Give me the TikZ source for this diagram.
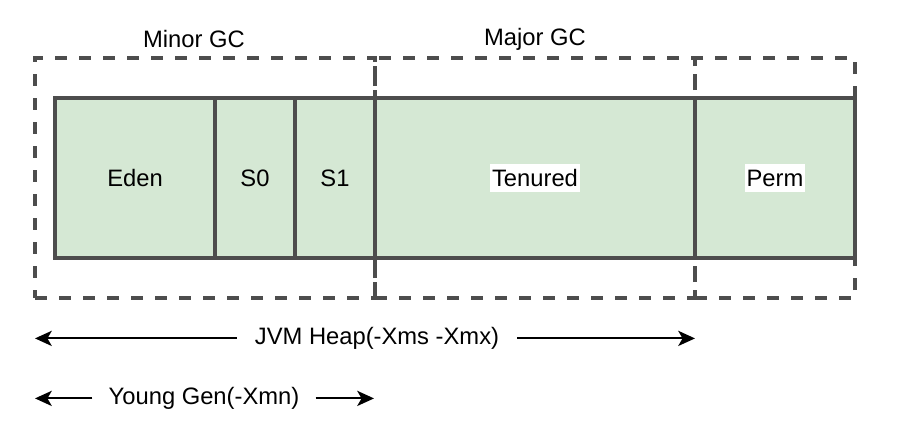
\documentclass[tikz,border=0pt]{standalone}
\usepackage{fontspec}
\setmainfont{Liberation Sans}
\usetikzlibrary{positioning}
\usetikzlibrary{arrows.meta}
\definecolor{edgegray}{RGB}{77,77,77}
\definecolor{heapgreen}{RGB}{213,232,212}

\begin{document}
\begin{tikzpicture}[
    font=\fontsize{16.9}{20}\selectfont,
    seg/.style={draw=edgegray, line width=0.09cm, fill=heapgreen, minimum height=4cm, outer sep=0pt, inner sep=0pt},
    gcbox/.style={draw=edgegray, line width=0.09cm, dash pattern=on 0.3cm off 0.3cm, minimum height=6cm, outer sep=0pt, inner sep=0pt},
    tag/.style={fill=white, inner xsep=0.05cm, inner ysep=0pt, minimum height=0.7cm},
    span/.style={line width=0.05cm, -{Stealth[length=0.42cm, width=0.38cm, inset=0.11cm]}}
  ]
  \useasboundingbox (0,0) rectangle (22.45,-11.1);
  % heap segments
  \node[seg, minimum width=4cm] at (3.375,-4.45) (eden) {Eden};
  \node[seg, minimum width=2cm, right=0pt of eden] (s0) {S0};
  \node[seg, minimum width=2cm, right=0pt of s0] (s1) {S1};
  \node[seg, minimum width=8cm, right=0pt of s1] (tenured) {};
  \node[seg, minimum width=4cm, right=0pt of tenured] (perm) {};
  \node[tag] at (tenured) (tenuredtxt) {Tenured};
  \node[tag] at (perm) (permtxt) {Perm};
  % gc areas
  \node[gcbox, minimum width=8.5cm] at (5.125,-4.45) (minor) {};
  \node[gcbox, minimum width=8cm, right=0pt of minor] (major) {};
  \node[gcbox, minimum width=4cm, right=0pt of major] (permgc) {};
  \node at (4.85,-0.98) (minorlbl) {Minor GC};
  \node at (13.375,-0.98) (majorlbl) {Major GC};
  % sizes
  \coordinate (heapL) at (0.875,-8.46);
  \coordinate (heapR) at (17.375,-8.46);
  \node[inner xsep=0.45cm] at (9.425,-8.46) (heap) {JVM Heap(-Xms -Xmx)};
  \draw[span] (heap.west) -- (heapL);
  \draw[span] (heap.east) -- (heapR);
  \coordinate (youngL) at (0.875,-9.96);
  \coordinate (youngR) at (9.35,-9.96);
  \node[inner xsep=0.4cm] at (5.1,-9.96) (young) {Young Gen(-Xmn)};
  \draw[span] (young.west) -- (youngL);
  \draw[span] (young.east) -- (youngR);
\end{tikzpicture}
\end{document}
